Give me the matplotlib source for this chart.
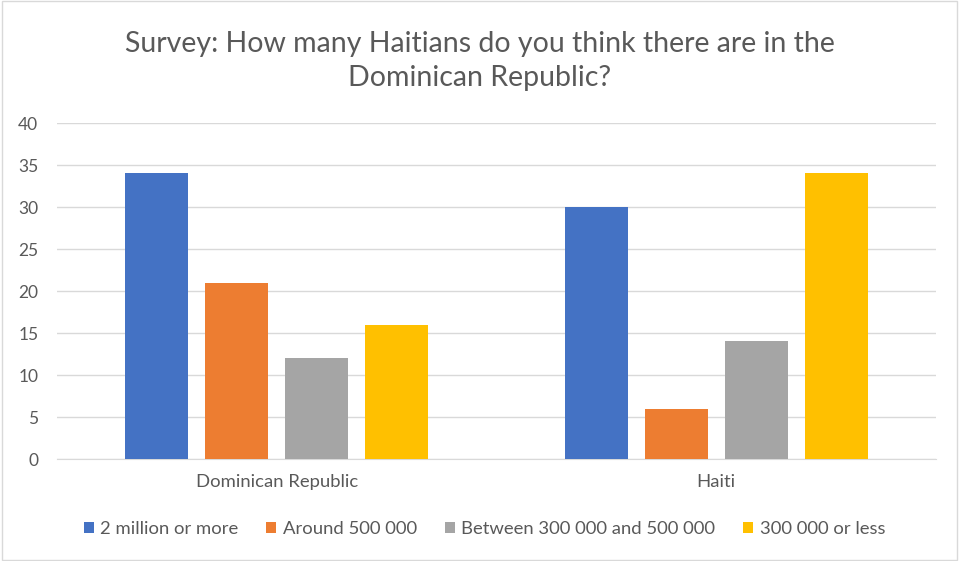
import matplotlib
matplotlib.use("Agg")
import matplotlib.pyplot as plt
import numpy as np

plt.rcParams["font.family"] = ["Lato", "DejaVu Sans"]

countries = ["Dominican Republic", "Haiti"]
answers = ["2 million or more", "Around 500 000",
           "Between 300 000 and 500 000", "300 000 or less"]
two_million = [34, 30]
around_500k = [21, 6]
between_300k_500k = [12, 14]
under_300k = [16, 34]
yticks = [0, 5, 10, 15, 20, 25, 30, 35, 40]

colors = ["#4472C4", "#ED7D31", "#A5A5A5", "#FFC000"]
text_color = "#595959"

fig = plt.figure(figsize=(9.59, 5.61), dpi=100)
ax = fig.add_axes([57 / 959, 102 / 561, 879 / 959, 336 / 561])

x = np.arange(len(countries))
width = 0.143
step = 0.182
series = [two_million, around_500k, between_300k_500k, under_300k]
for i, (vals, label, c) in enumerate(zip(series, answers, colors)):
    ax.bar(x + (i - 1.5) * step, vals, width, color=c, label=label, zorder=3)

ax.set_xlim(-0.5, 1.5)
ax.set_ylim(0, 40)
ax.set_yticks(yticks)
ax.yaxis.grid(True, color="#D9D9D9", linewidth=1, zorder=0)
ax.set_xticks(x)
ax.set_xticklabels(countries)
ax.tick_params(axis="both", length=0, colors=text_color)
ax.tick_params(axis="x", pad=11, labelsize=13.3)
ax.tick_params(axis="y", pad=13.5, labelsize=12.5)
for side in ["top", "right", "left"]:
    ax.spines[side].set_visible(False)
ax.spines["bottom"].set_color("#D9D9D9")

fig.text(0.5, 1 - 61 / 561, "Survey: How many Haitians do you think there are in the\nDominican Republic?",
         ha="center", va="center", fontsize=20.5, color=text_color, linespacing=1.4)

leg = fig.legend(loc="center", bbox_to_anchor=(0.505, 1 - 529 / 561), ncol=4,
                 frameon=False, fontsize=13.3, handlelength=0.55, handleheight=0.55,
                 handletextpad=0.35, columnspacing=1.5)
for t in leg.get_texts():
    t.set_color(text_color)

fig.patches.append(plt.Rectangle((0.002, 0.002), 0.996, 0.996, transform=fig.transFigure,
                                 fill=False, edgecolor="#D9D9D9", linewidth=1))

fig.savefig("out.png", dpi=100)
